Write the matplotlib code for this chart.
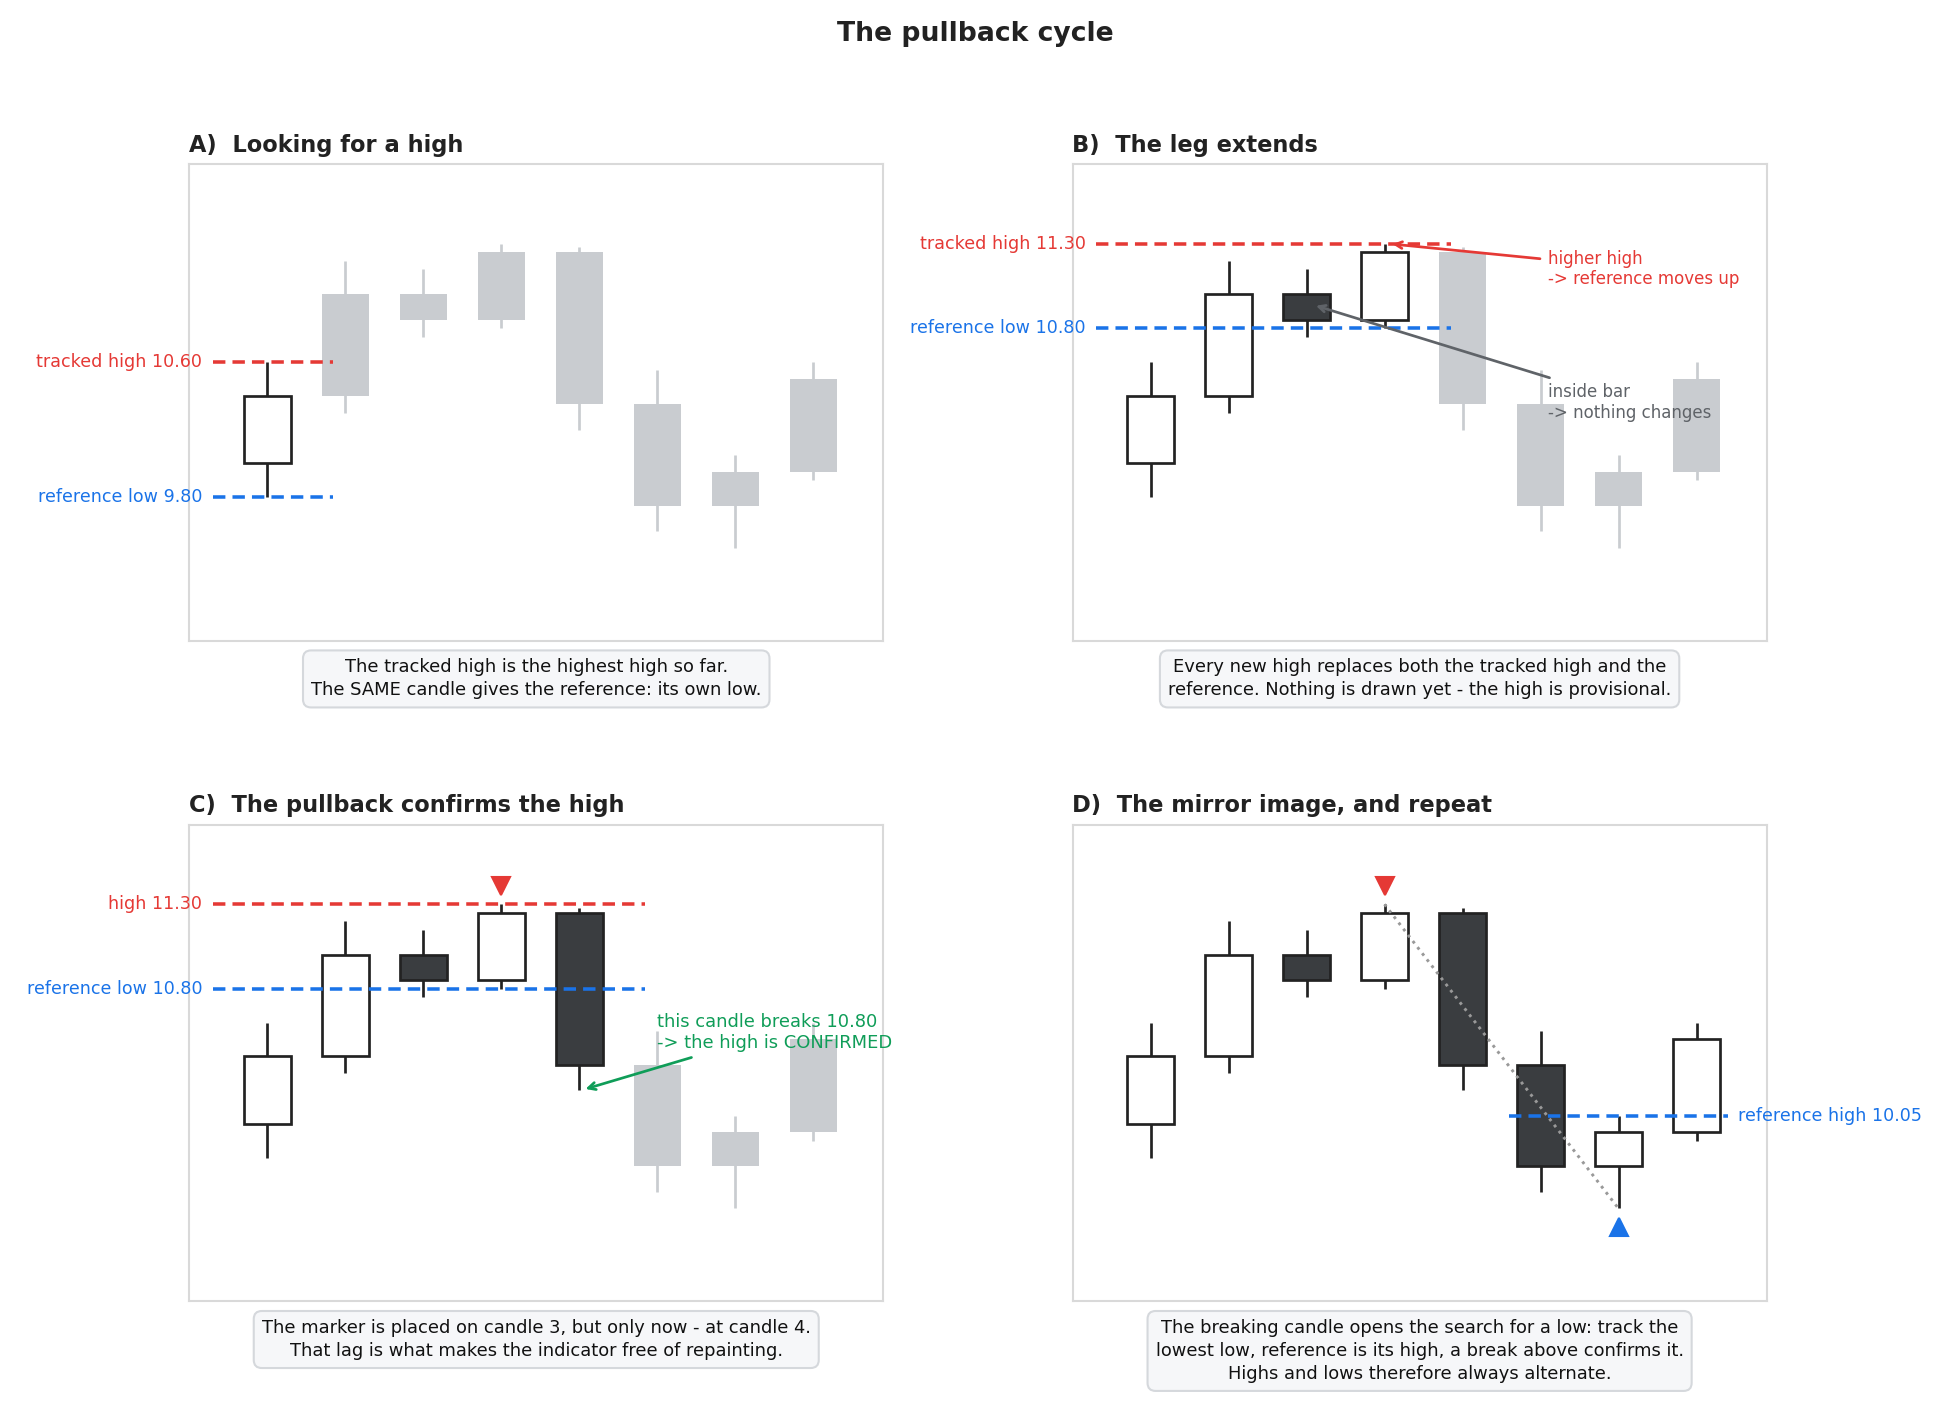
import numpy as np
import matplotlib
matplotlib.use("Agg")
import matplotlib.pyplot as plt

# --- candle data (same 8 candles in every panel) ---
opens = [10.0, 10.4, 11.0, 10.85, 11.25, 10.35, 9.75, 9.95]
closes = [10.4, 11.0, 10.85, 11.25, 10.35, 9.75, 9.95, 10.5]
highs = [10.6, 11.2, 11.15, 11.3, 11.28, 10.55, 10.05, 10.6]
lows = [9.8, 10.3, 10.75, 10.8, 10.2, 9.6, 9.5, 9.9]

titles = ["A)  Looking for a high", "B)  The leg extends",
          "C)  The pullback confirms the high", "D)  The mirror image, and repeat"]
visible = [1, 4, 5, 8]
captions = [
    "The tracked high is the highest high so far.\nThe SAME candle gives the reference: its own low.",
    "Every new high replaces both the tracked high and the\nreference. Nothing is drawn yet - the high is provisional.",
    "The marker is placed on candle 3, but only now - at candle 4.\nThat lag is what makes the indicator free of repainting.",
    "The breaking candle opens the search for a low: track the\nlowest low, reference is its high, a break above confirms it.\nHighs and lows therefore always alternate.",
]

RED = "#e53935"
BLUE = "#1a73e8"
GREEN = "#0f9d58"
GREY = "#c9ccd0"
DARK = "#3a3d40"
EDGE = "#222222"
NOTE = "#5f6368"

fig = plt.figure(figsize=(13, 9.4), dpi=150)
fig.suptitle("The pullback cycle", fontsize=12.8, fontweight="bold", color="#222222", y=0.985)

positions = [[0.097, 0.5455, 0.356, 0.338], [0.550, 0.5455, 0.356, 0.338],
             [0.097, 0.077, 0.356, 0.338], [0.550, 0.077, 0.356, 0.338]]

x = np.arange(len(opens))


def draw_candles(ax, n_vis):
    for i in x:
        o, c, h, l = opens[i], closes[i], highs[i], lows[i]
        lo, hi = min(o, c), max(o, c)
        if i < n_vis:
            fc = "white" if c >= o else DARK
            ax.vlines(i, l, lo, color=EDGE, lw=1.3, zorder=2)
            ax.vlines(i, hi, h, color=EDGE, lw=1.3, zorder=2)
            ax.bar(i, hi - lo, bottom=lo, width=0.6, color=fc, edgecolor=EDGE, lw=1.3, zorder=3)
        else:
            ax.vlines(i, l, h, color=GREY, lw=1.3, zorder=2)
            ax.bar(i, hi - lo, bottom=lo, width=0.6, color=GREY, lw=0, zorder=3)


def level(ax, y, x0, x1, color, label, side="left"):
    ax.plot([x0, x1], [y, y], color=color, ls="--", lw=1.7, dashes=(3.5, 2), zorder=5)
    if side == "left":
        ax.text(x0 - 0.13, y, label, color=color, fontsize=8.4, ha="right", va="center", clip_on=False)
    else:
        ax.text(x1 + 0.13, y, label, color=color, fontsize=8.4, ha="left", va="center", clip_on=False)


axes = []
for k in range(4):
    ax = fig.add_axes(positions[k])
    axes.append(ax)
    draw_candles(ax, visible[k])
    ax.set_xlim(-1.0, 7.9)
    ax.set_ylim(8.95, 11.77)
    ax.set_xticks([])
    ax.set_yticks([])
    for s in ax.spines.values():
        s.set_color("#d9d9d9")
        s.set_linewidth(1.0)
    ax.set_title(titles[k], loc="left", fontsize=10.8, fontweight="bold", color="#222222", pad=6)
    ax.text(0.5, -0.037, captions[k], transform=ax.transAxes, ha="center", va="top",
            fontsize=8.6, color="#111111", linespacing=1.35,
            bbox=dict(boxstyle="round,pad=0.45", fc="#f6f7f9", ec="#d5d8dc", lw=1))

# A
level(axes[0], highs[0], -0.7, 0.85, RED, "tracked high 10.60")
level(axes[0], lows[0], -0.7, 0.85, BLUE, "reference low 9.80")

# B
level(axes[1], highs[3], -0.7, 3.85, RED, "tracked high 11.30")
level(axes[1], lows[3], -0.7, 3.85, BLUE, "reference low 10.80")
axes[1].annotate("higher high\n-> reference moves up", xy=(3.05, highs[3]), xytext=(5.1, 11.15),
                 color=RED, fontsize=8, ha="left", va="center", zorder=6,
                 arrowprops=dict(arrowstyle="->", color=RED, lw=1.3))
axes[1].annotate("inside bar\n-> nothing changes", xy=(2.07, 10.94), xytext=(5.1, 10.36),
                 color=NOTE, fontsize=8, ha="left", va="center", zorder=6,
                 arrowprops=dict(arrowstyle="->", color=NOTE, lw=1.3))

# C
level(axes[2], highs[3], -0.7, 4.85, RED, "high 11.30")
level(axes[2], lows[3], -0.7, 4.85, BLUE, "reference low 10.80")
axes[2].plot(3, highs[3] + 0.11, marker="v", color=RED, ms=9, zorder=6)
axes[2].annotate("this candle breaks 10.80\n-> the high is CONFIRMED", xy=(4.03, lows[4]),
                 xytext=(5.0, 10.54), color=GREEN, fontsize=8.6, ha="left", va="center", zorder=6,
                 arrowprops=dict(arrowstyle="->", color=GREEN, lw=1.3))

# D
axes[3].plot([3, 6], [highs[3], lows[6]], color="#999999", ls=":", lw=1.4, zorder=5)
axes[3].plot(3, highs[3] + 0.11, marker="v", color=RED, ms=9, zorder=6)
axes[3].plot(6, lows[6] - 0.11, marker="^", color=BLUE, ms=9, zorder=6)
level(axes[3], highs[6], 4.6, 7.4, BLUE, "reference high 10.05", side="right")

fig.savefig("out.png", dpi=150)
